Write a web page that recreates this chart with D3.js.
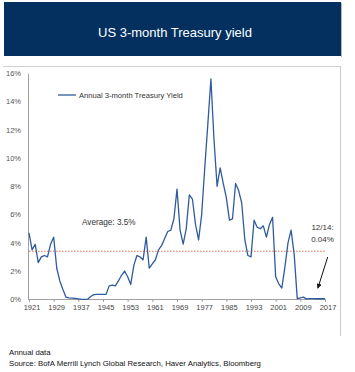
<!DOCTYPE html>
<html>
<head>
<meta charset="utf-8">
<script src="https://cdn.jsdelivr.net/npm/d3@7"></script>
<style>
  html, body { margin: 0; padding: 0; background: #fff; }
  svg { display: block; font-family: "Liberation Sans", Arial, sans-serif; }
</style>
</head>
<body>
<svg id="chart" width="355" height="372"></svg>
<script>
// ---- data ----
const titleText = "US 3-month Treasury yield";
const seriesName = "Annual 3-month Treasury Yield";
const years = d3.range(1921, 2018);
const yieldValues = [
  4.7, 3.5, 3.9, 2.6, 3.0, 3.1, 3.0, 3.9, 4.4, 2.2,      // 1921-1930
  1.3, 0.7, 0.15, 0.1, 0.08, 0.06, 0.03, 0.0, 0.0, 0.01, // 1931-1940
  0.2, 0.33, 0.35, 0.35, 0.35, 0.35, 0.95, 1.0, 0.95, 1.3, // 1941-1950
  1.7, 2.0, 1.6, 1.05, 2.4, 3.1, 3.0, 2.8, 4.4, 2.2,     // 1951-1960
  2.5, 2.8, 3.5, 3.8, 4.3, 4.8, 4.9, 5.7, 7.8, 4.9,      // 1961-1970
  3.9, 5.0, 7.4, 7.1, 5.3, 4.2, 6.0, 9.3, 12.4, 15.6,    // 1971-1980
  11.3, 8.0, 9.3, 8.2, 7.2, 5.6, 5.7, 8.2, 7.7, 6.8,     // 1981-1990
  4.2, 3.1, 3.0, 5.6, 5.1, 5.0, 5.2, 4.4, 5.3, 5.8,      // 1991-2000
  1.6, 1.1, 0.8, 2.3, 4.0, 4.9, 3.2, 0.05, 0.1, 0.15,    // 2001-2010
  0.03, 0.05, 0.05, 0.04, 0.04, 0.04, 0.04               // 2011-2017
];
const averageValue = 3.4;
const averageLabel = "Average: 3.5%";
const yTicks = [0, 2, 4, 6, 8, 10, 12, 14, 16];
const xTicks = d3.range(1921, 2018, 8);
const noteLines = ["12/14:", "0.04%"];
const noteYear = 2015;
const noteValue = 0.04;
const footerLines = ["Annual data", "Source: BofA Merrill Lynch Global Research, Haver Analytics, Bloomberg"];

// ---- drawing ----
const svg = d3.select("#chart");
const data = years.map((yr, i) => ({ year: yr, value: yieldValues[i] }));

// title banner
svg.append("rect").attr("x", 4).attr("y", 2).attr("width", 337).attr("height", 54)
  .attr("fill", "#03305f");
svg.append("line").attr("x1", 341.5).attr("x2", 341.5).attr("y1", 3).attr("y2", 57)
  .attr("stroke", "#b8b8b8").attr("stroke-width", 1);
svg.append("text").attr("x", 175).attr("y", 36.5).attr("text-anchor", "middle")
  .attr("fill", "#fff").attr("font-size", 13).text(titleText);

// chart frame (top + right)
svg.append("path").attr("d", "M3,66.5H340.5V336").attr("fill", "none")
  .attr("stroke", "#cfcfcf").attr("stroke-width", 1.2);

const x = d3.scaleLinear().domain([1921, 2017]).range([29, 325]);
const y = d3.scaleLinear().domain([0, 16]).range([299.3, 73.3]);

// y axis
const yAxis = d3.axisLeft(y).tickValues(yTicks).tickSize(0).tickPadding(7)
  .tickFormat(d => d + "%");
const gy = svg.append("g").attr("transform", "translate(28,0)").call(yAxis);
gy.select(".domain").attr("stroke", "#a0a0a0").attr("stroke-width", 1);
gy.selectAll("text").attr("font-size", 7.5).attr("fill", "#555")
  .attr("font-family", "'Liberation Sans', Arial, sans-serif");

// x axis
const xAxis = d3.axisBottom(x).tickValues(xTicks).tickSize(3).tickPadding(3)
  .tickFormat(d3.format("d")).tickSizeOuter(0);
const gx = svg.append("g").attr("transform", "translate(0,299)").call(xAxis);
gx.select(".domain").attr("stroke", "#a0a0a0").attr("stroke-width", 1)
  .attr("d", "M28,0.5H326");
gx.selectAll(".tick line").attr("stroke", "#a0a0a0");
gx.selectAll("text").attr("font-size", 7.5).attr("fill", "#444").attr("dx", 2.5)
  .attr("font-family", "'Liberation Sans', Arial, sans-serif");

// average line
svg.append("line").attr("x1", x(1921)).attr("x2", x(2017))
  .attr("y1", y(averageValue)).attr("y2", y(averageValue))
  .attr("stroke", "#e8795a").attr("stroke-width", 1.1).attr("stroke-dasharray", "1.6,1.4");
svg.append("text").attr("x", 82).attr("y", y(averageValue) - 26)
  .attr("font-size", 8.2).attr("fill", "#333").text(averageLabel);

// series line
const line = d3.line().x(d => x(d.year)).y(d => y(d.value));
svg.append("path").datum(data).attr("d", line).attr("fill", "none")
  .attr("stroke", "#2f5b9e").attr("stroke-width", 1.3).attr("stroke-linejoin", "round");

// legend
svg.append("line").attr("x1", 58).attr("x2", 76).attr("y1", 95).attr("y2", 95)
  .attr("stroke", "#2f5b9e").attr("stroke-width", 1.3);
svg.append("text").attr("x", 79).attr("y", 98).attr("font-size", 7.6)
  .attr("fill", "#333").text(seriesName);

// note + arrow
svg.append("defs").append("marker").attr("id", "ah").attr("viewBox", "0 0 10 10")
  .attr("refX", 9).attr("refY", 5).attr("markerWidth", 5).attr("markerHeight", 5)
  .attr("orient", "auto").append("path").attr("d", "M0,0L10,5L0,10Z").attr("fill", "#111");
svg.append("line").attr("x1", 327.7).attr("y1", 257)
  .attr("x2", x(noteYear) - 1).attr("y2", y(noteValue) - 10.5)
  .attr("stroke", "#111").attr("stroke-width", 1).attr("marker-end", "url(#ah)");
svg.selectAll("text.note").data(noteLines).enter().append("text").attr("class", "note")
  .attr("x", 322.5).attr("y", (d, i) => 229.5 + i * 12).attr("text-anchor", "middle")
  .attr("font-size", 8).attr("fill", "#333").text(d => d);

// footer
svg.selectAll("text.foot").data(footerLines).enter().append("text").attr("class", "foot")
  .attr("x", 9).attr("y", (d, i) => 354.5 + i * 11).attr("font-size", 7.8)
  .attr("fill", "#111").text(d => d);
</script>
</body>
</html>
